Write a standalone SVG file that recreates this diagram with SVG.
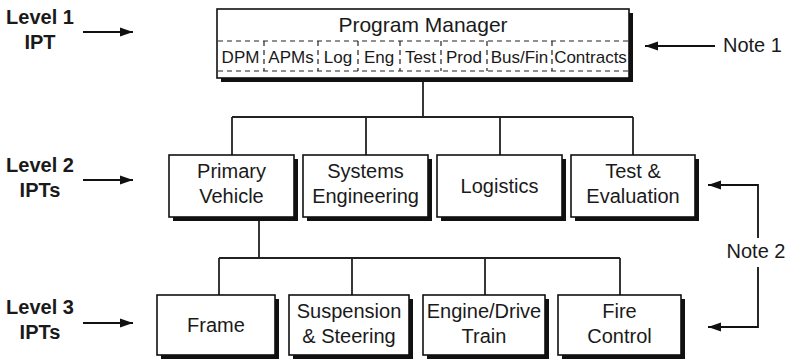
<svg xmlns="http://www.w3.org/2000/svg" width="790" height="361" viewBox="0 0 790 361">
<defs>
<style>
text{font-family:"Liberation Sans",Arial,Helvetica,sans-serif;fill:#1a1a1a;text-anchor:middle}
.lv{font-weight:bold;font-size:20px}
.bt{font-size:20px}
.ct{font-size:17px}
.nt{font-size:20px;text-anchor:start}
.sh{fill:#111}
.bx{fill:#fff;stroke:#111;stroke-width:1.6}
.ln{fill:none;stroke:#222;stroke-width:1.8}
.dash{fill:none;stroke:#222;stroke-width:1.2;stroke-dasharray:5 4}
.ar{fill:none;stroke:#111;stroke-width:1.8;marker-end:url(#ah)}
</style>
<marker id="ah" markerWidth="14" markerHeight="10" refX="13" refY="5" orient="auto" markerUnits="userSpaceOnUse">
<path d="M0,0.5 L13,5 L0,9.5 Z" fill="#111"/>
</marker>
</defs>
<rect width="790" height="361" fill="#fff"/>

<g id="connectors">
<path class="ln" d="M423,82 V117 M232,117 H633 M232,117 V155 M366,117 V155 M500,117 V155 M633,117 V155"/>
<path class="ln" d="M259,217 V258 M219,258 H620 M219,258 V295 M352,258 V295 M485,258 V295 M620,258 V295"/>
<path class="ar" d="M83,32 H133"/>
<path class="ar" d="M83,180 H133"/>
<path class="ar" d="M83,323 H133"/>
<path class="ar" d="M715,46 H645"/>
<path class="ar" d="M758,238 V185 H708"/>
<path class="ar" d="M758,267 V327 H708"/>
</g>

<g id="level-labels">
<text class="lv" x="40" y="24">Level 1</text>
<text class="lv" x="40" y="49">IPT</text>
<text class="lv" x="40" y="172">Level 2</text>
<text class="lv" x="40" y="197">IPTs</text>
<text class="lv" x="40" y="314">Level 3</text>
<text class="lv" x="40" y="339">IPTs</text>
</g>

<g id="note1"><text class="nt" x="723" y="52">Note 1</text></g>
<g id="note2"><text class="bt" x="756" y="258">Note 2</text></g>

<g id="program-manager">
<rect class="sh" x="221" y="13" width="412" height="69"/>
<rect class="bx" x="217" y="9" width="412" height="69"/>
<text x="423" y="32" style="font-size:21px">Program Manager</text>
<path class="dash" d="M218,41 H628 M218,71 H628 M264,41 V71 M318,41 V71 M358,41 V71 M400,41 V71 M441,41 V71 M487,41 V71 M552,41 V71"/>
<text class="ct" x="240.5" y="63">DPM</text>
<text class="ct" x="291" y="63">APMs</text>
<text class="ct" x="338" y="63">Log</text>
<text class="ct" x="379" y="63">Eng</text>
<text class="ct" x="420.5" y="63">Test</text>
<text class="ct" x="464" y="63">Prod</text>
<text class="ct" x="519.5" y="63">Bus/Fin</text>
<text class="ct" x="590.5" y="63">Contracts</text>
</g>

<g id="primary-vehicle">
<rect class="sh" x="173" y="159" width="125" height="62"/>
<rect class="bx" x="169" y="155" width="125" height="62"/>
<text class="bt" x="231.5" y="178">Primary</text>
<text class="bt" x="231.5" y="203">Vehicle</text>
</g>
<g id="systems-engineering">
<rect class="sh" x="307" y="159" width="125" height="62"/>
<rect class="bx" x="303" y="155" width="125" height="62"/>
<text class="bt" x="365.5" y="178">Systems</text>
<text class="bt" x="365.5" y="203">Engineering</text>
</g>
<g id="logistics">
<rect class="sh" x="441" y="159" width="125" height="62"/>
<rect class="bx" x="437" y="155" width="125" height="62"/>
<text class="bt" x="499.5" y="193">Logistics</text>
</g>
<g id="test-evaluation">
<rect class="sh" x="575" y="159" width="124" height="62"/>
<rect class="bx" x="571" y="155" width="124" height="62"/>
<text class="bt" x="633" y="178">Test &amp;</text>
<text class="bt" x="633" y="203">Evaluation</text>
</g>

<g id="frame">
<rect class="sh" x="161" y="299" width="118" height="60"/>
<rect class="bx" x="157" y="295" width="118" height="60"/>
<text class="bt" x="216" y="332">Frame</text>
</g>
<g id="suspension-steering">
<rect class="sh" x="293" y="299" width="120" height="60"/>
<rect class="bx" x="289" y="295" width="120" height="60"/>
<text class="bt" x="349" y="318">Suspension</text>
<text class="bt" x="349" y="343">&amp; Steering</text>
</g>
<g id="engine-drive-train">
<rect class="sh" x="427" y="299" width="122" height="60"/>
<rect class="bx" x="423" y="295" width="122" height="60"/>
<text class="bt" x="484" y="318">Engine/Drive</text>
<text class="bt" x="484" y="343">Train</text>
</g>
<g id="fire-control">
<rect class="sh" x="562" y="299" width="123" height="60"/>
<rect class="bx" x="558" y="295" width="123" height="60"/>
<text class="bt" x="619.5" y="318">Fire</text>
<text class="bt" x="619.5" y="343">Control</text>
</g>
</svg>
